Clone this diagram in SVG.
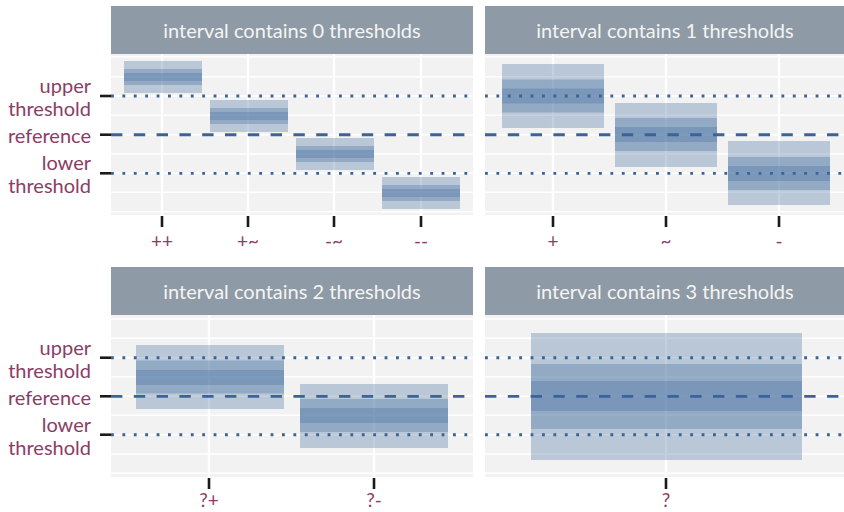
<svg xmlns="http://www.w3.org/2000/svg" width="844" height="512" viewBox="0 0 844 512">
<style>
.bg{fill:#f2f2f2}
.strip{fill:#8e9aa5}
.st{font-family:Lato,"Open Sans",sans-serif;font-size:20px;fill:#f4f4f4;text-anchor:middle}
.yl{font-family:Lato,"Open Sans",sans-serif;font-size:20px;fill:#8b3d66;text-anchor:end}
.xl{font-family:Lato,"Open Sans",sans-serif;font-size:19px;fill:#8b3d66;text-anchor:middle}
.gh{stroke:#ffffff;stroke-width:1.4}
.gv{stroke:#ffffff;stroke-width:2.4}
.b{fill:#4771a1;fill-opacity:0.333}
.dot{stroke:#3b6398;stroke-width:2.85;stroke-dasharray:2.85 8.55;fill:none}
.dash{stroke:#3b6398;stroke-width:2.85;stroke-dasharray:11.4 11.4;fill:none}
.tk{stroke:#1a1a1a;stroke-width:2.6}
</style>

<g id="panel-0">
  <rect class="bg" x="111" y="54" width="362" height="161"/>
  <g>
    <line class="gh" x1="111" x2="473" y1="56.7" y2="56.7"/>
    <line class="gh" x1="111" x2="473" y1="76.7" y2="76.7"/>
    <line class="gh" x1="111" x2="473" y1="96" y2="96"/>
    <line class="gh" x1="111" x2="473" y1="115.3" y2="115.3"/>
    <line class="gh" x1="111" x2="473" y1="134.7" y2="134.7"/>
    <line class="gh" x1="111" x2="473" y1="154" y2="154"/>
    <line class="gh" x1="111" x2="473" y1="173.3" y2="173.3"/>
    <line class="gh" x1="111" x2="473" y1="192.3" y2="192.3"/>
    <line class="gh" x1="111" x2="473" y1="211.7" y2="211.7"/>
    <line class="gv" x1="162" x2="162" y1="54" y2="215"/>
    <line class="gv" x1="248" x2="248" y1="54" y2="215"/>
    <line class="gv" x1="334" x2="334" y1="54" y2="215"/>
    <line class="gv" x1="421" x2="421" y1="54" y2="215"/>
  </g>
  <g>
    <rect class="b" x="124" y="61" width="78" height="32"/>
    <rect class="b" x="124" y="69" width="78" height="16"/>
    <rect class="b" x="124" y="73" width="78" height="8"/>
    <rect class="b" x="210" y="100" width="78" height="32"/>
    <rect class="b" x="210" y="108" width="78" height="16"/>
    <rect class="b" x="210" y="112" width="78" height="8"/>
    <rect class="b" x="296" y="138" width="78" height="32"/>
    <rect class="b" x="296" y="146" width="78" height="16"/>
    <rect class="b" x="296" y="150" width="78" height="8"/>
    <rect class="b" x="382" y="177" width="78" height="32"/>
    <rect class="b" x="382" y="185" width="78" height="16"/>
    <rect class="b" x="382" y="189" width="78" height="8"/>
  </g>
  <line class="dot" x1="111" x2="473" y1="96" y2="96"/>
  <line class="dash" x1="111" x2="473" y1="134.7" y2="134.7"/>
  <line class="dot" x1="111" x2="473" y1="173.3" y2="173.3"/>
  <rect class="strip" x="111" y="6" width="362" height="48"/>
  <text class="st" x="292" y="38">interval contains 0 thresholds</text>
  <line class="tk" x1="162" x2="162" y1="216" y2="227"/>
  <line class="tk" x1="248" x2="248" y1="216" y2="227"/>
  <line class="tk" x1="334" x2="334" y1="216" y2="227"/>
  <line class="tk" x1="421" x2="421" y1="216" y2="227"/>
  <text class="xl" x="162" y="248">++</text>
  <text class="xl" x="248" y="248">+~</text>
  <text class="xl" x="334" y="248">-~</text>
  <text class="xl" x="421" y="248">--</text>
  <line class="tk" x1="100" x2="111" y1="96" y2="96"/>
  <line class="tk" x1="100" x2="111" y1="134.7" y2="134.7"/>
  <line class="tk" x1="100" x2="111" y1="173.3" y2="173.3"/>
  <text class="yl" x="91" y="93">upper</text>
  <text class="yl" x="91" y="116">threshold</text>
  <text class="yl" x="91" y="143">reference</text>
  <text class="yl" x="91" y="170">lower</text>
  <text class="yl" x="91" y="193">threshold</text>
</g>

<g id="panel-1">
  <rect class="bg" x="485" y="54" width="359" height="161"/>
  <g>
    <line class="gh" x1="485" x2="844" y1="56.7" y2="56.7"/>
    <line class="gh" x1="485" x2="844" y1="76.7" y2="76.7"/>
    <line class="gh" x1="485" x2="844" y1="96" y2="96"/>
    <line class="gh" x1="485" x2="844" y1="115.3" y2="115.3"/>
    <line class="gh" x1="485" x2="844" y1="134.7" y2="134.7"/>
    <line class="gh" x1="485" x2="844" y1="154" y2="154"/>
    <line class="gh" x1="485" x2="844" y1="173.3" y2="173.3"/>
    <line class="gh" x1="485" x2="844" y1="192.3" y2="192.3"/>
    <line class="gh" x1="485" x2="844" y1="211.7" y2="211.7"/>
    <line class="gv" x1="553" x2="553" y1="54" y2="215"/>
    <line class="gv" x1="666" x2="666" y1="54" y2="215"/>
    <line class="gv" x1="779" x2="779" y1="54" y2="215"/>
  </g>
  <g>
    <rect class="b" x="502" y="64" width="102" height="64"/>
    <rect class="b" x="502" y="79.5" width="102" height="33"/>
    <rect class="b" x="502" y="88.5" width="102" height="15"/>
    <rect class="b" x="615" y="103" width="102" height="64"/>
    <rect class="b" x="615" y="118" width="102" height="33"/>
    <rect class="b" x="615" y="127" width="102" height="15"/>
    <rect class="b" x="728" y="141" width="102" height="64"/>
    <rect class="b" x="728" y="157" width="102" height="33"/>
    <rect class="b" x="728" y="166" width="102" height="15"/>
  </g>
  <line class="dot" x1="485" x2="844" y1="96" y2="96"/>
  <line class="dash" x1="485" x2="844" y1="134.7" y2="134.7"/>
  <line class="dot" x1="485" x2="844" y1="173.3" y2="173.3"/>
  <rect class="strip" x="485" y="6" width="359" height="48"/>
  <text class="st" x="665" y="38">interval contains 1 thresholds</text>
  <line class="tk" x1="553" x2="553" y1="216" y2="227"/>
  <line class="tk" x1="666" x2="666" y1="216" y2="227"/>
  <line class="tk" x1="779" x2="779" y1="216" y2="227"/>
  <text class="xl" x="553" y="248">+</text>
  <text class="xl" x="666" y="248">~</text>
  <text class="xl" x="779" y="248">-</text>
</g>

<g id="panel-2">
  <rect class="bg" x="111" y="315" width="362" height="162"/>
  <g>
    <line class="gh" x1="111" x2="473" y1="319" y2="319"/>
    <line class="gh" x1="111" x2="473" y1="338.3" y2="338.3"/>
    <line class="gh" x1="111" x2="473" y1="357.7" y2="357.7"/>
    <line class="gh" x1="111" x2="473" y1="376.7" y2="376.7"/>
    <line class="gh" x1="111" x2="473" y1="396.3" y2="396.3"/>
    <line class="gh" x1="111" x2="473" y1="415.3" y2="415.3"/>
    <line class="gh" x1="111" x2="473" y1="434.7" y2="434.7"/>
    <line class="gh" x1="111" x2="473" y1="454" y2="454"/>
    <line class="gh" x1="111" x2="473" y1="473.3" y2="473.3"/>
    <line class="gv" x1="209" x2="209" y1="315" y2="477"/>
    <line class="gv" x1="374" x2="374" y1="315" y2="477"/>
  </g>
  <g>
    <rect class="b" x="136" y="345" width="148" height="64"/>
    <rect class="b" x="136" y="360.5" width="148" height="33"/>
    <rect class="b" x="136" y="370" width="148" height="15"/>
    <rect class="b" x="300" y="384" width="148" height="64"/>
    <rect class="b" x="300" y="399" width="148" height="33"/>
    <rect class="b" x="300" y="408" width="148" height="15"/>
  </g>
  <line class="dot" x1="111" x2="473" y1="357.7" y2="357.7"/>
  <line class="dash" x1="111" x2="473" y1="396.3" y2="396.3"/>
  <line class="dot" x1="111" x2="473" y1="434.7" y2="434.7"/>
  <rect class="strip" x="111" y="267" width="362" height="48"/>
  <text class="st" x="292" y="299">interval contains 2 thresholds</text>
  <line class="tk" x1="209" x2="209" y1="478" y2="489"/>
  <line class="tk" x1="374" x2="374" y1="478" y2="489"/>
  <text class="xl" x="209" y="507">?+</text>
  <text class="xl" x="374" y="507">?-</text>
  <line class="tk" x1="100" x2="111" y1="357.7" y2="357.7"/>
  <line class="tk" x1="100" x2="111" y1="396.3" y2="396.3"/>
  <line class="tk" x1="100" x2="111" y1="434.7" y2="434.7"/>
  <text class="yl" x="91" y="355">upper</text>
  <text class="yl" x="91" y="378">threshold</text>
  <text class="yl" x="91" y="405">reference</text>
  <text class="yl" x="91" y="432">lower</text>
  <text class="yl" x="91" y="455">threshold</text>
</g>

<g id="panel-3">
  <rect class="bg" x="485" y="315" width="359" height="162"/>
  <g>
    <line class="gh" x1="485" x2="844" y1="319" y2="319"/>
    <line class="gh" x1="485" x2="844" y1="338.3" y2="338.3"/>
    <line class="gh" x1="485" x2="844" y1="357.7" y2="357.7"/>
    <line class="gh" x1="485" x2="844" y1="376.7" y2="376.7"/>
    <line class="gh" x1="485" x2="844" y1="396.3" y2="396.3"/>
    <line class="gh" x1="485" x2="844" y1="415.3" y2="415.3"/>
    <line class="gh" x1="485" x2="844" y1="434.7" y2="434.7"/>
    <line class="gh" x1="485" x2="844" y1="454" y2="454"/>
    <line class="gh" x1="485" x2="844" y1="473.3" y2="473.3"/>
    <line class="gv" x1="666" x2="666" y1="315" y2="477"/>
  </g>
  <g>
    <rect class="b" x="531" y="333" width="271" height="127"/>
    <rect class="b" x="531" y="364" width="271" height="65"/>
    <rect class="b" x="531" y="381" width="271" height="30"/>
  </g>
  <line class="dot" x1="485" x2="844" y1="357.7" y2="357.7"/>
  <line class="dash" x1="485" x2="844" y1="396.3" y2="396.3"/>
  <line class="dot" x1="485" x2="844" y1="434.7" y2="434.7"/>
  <rect class="strip" x="485" y="267" width="359" height="48"/>
  <text class="st" x="665" y="299">interval contains 3 thresholds</text>
  <line class="tk" x1="666" x2="666" y1="478" y2="489"/>
  <text class="xl" x="666" y="507">?</text>
</g>
</svg>
